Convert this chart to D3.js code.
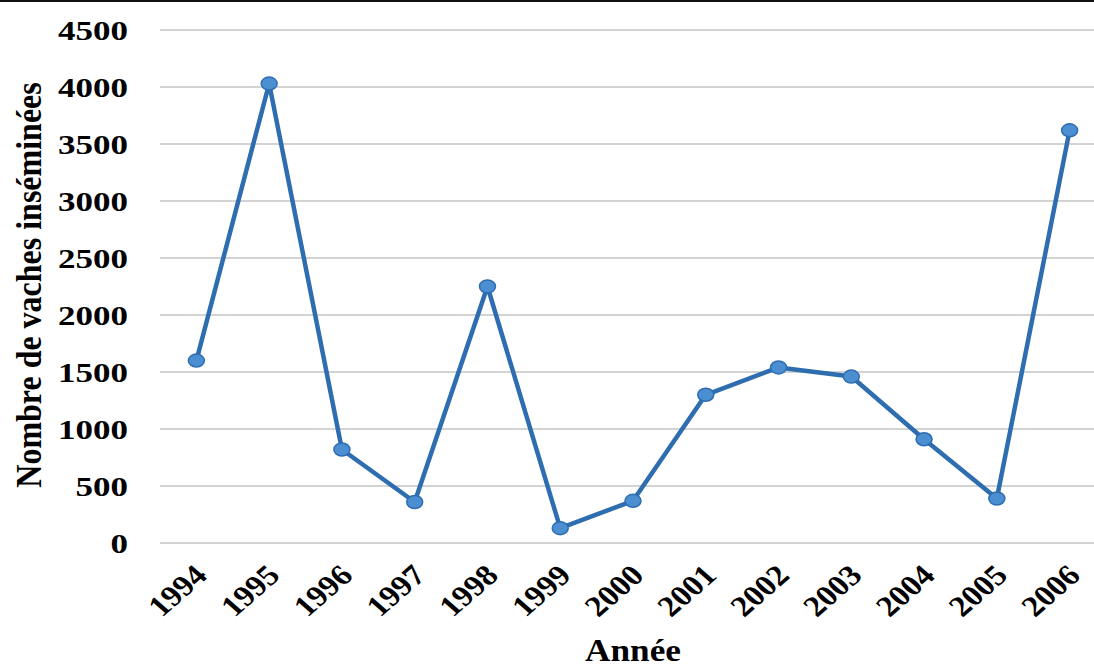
<!DOCTYPE html>
<html>
<head>
  <meta charset="UTF-8">
  <style>
    body { margin: 0; background: #fff; }
    svg { display: block; }
    text { font-family: "Liberation Serif", "Times New Roman", serif; font-weight: bold; fill: #000; }
  </style>
</head>
<body>
  <svg width="1094" height="669"></svg>
  <script src="https://d3js.org/d3.v7.min.js"></script>
  <script>
    // données
    const annees = ['1994', '1995', '1996', '1997', '1998', '1999', '2000',
                    '2001', '2002', '2003', '2004', '2005', '2006'];
    const vaches = [1600, 4030, 820, 360, 2250, 130, 370, 1300, 1540, 1460, 910, 390, 3620];
    const yTicks = [0, 500, 1000, 1500, 2000, 2500, 3000, 3500, 4000, 4500];

    const svg = d3.select('svg');
    const mLeft = 160, mRight = 1106, mTop = 30, mBottom = 543;
    const sx = 1.25; // l'image d'origine est étirée en largeur

    const x = d3.scalePoint().domain(annees).range([mLeft, mRight]).padding(0.5);
    const y = d3.scaleLinear().domain([0, 4500]).range([mBottom, mTop]);

    // bordure du haut
    svg.append('line')
      .attr('x1', 0).attr('x2', 1094).attr('y1', 1).attr('y2', 1)
      .attr('stroke', '#111').attr('stroke-width', 2);

    // grille horizontale
    svg.append('g')
      .selectAll('line')
      .data(yTicks)
      .enter()
      .append('line')
      .attr('x1', mLeft).attr('x2', mRight)
      .attr('y1', d => y(d)).attr('y2', d => y(d))
      .attr('stroke', '#c4c4c4')
      .attr('stroke-width', 1.5);

    // axe Y
    const yAxis = svg.append('g')
      .attr('transform', `translate(${mLeft},0)`)
      .call(d3.axisLeft(y).tickValues(yTicks).tickFormat(d3.format('d')).tickSize(0));
    yAxis.select('.domain').remove();
    yAxis.selectAll('text')
      .style('font-size', '28px')
      .style('font-family', '"Liberation Serif", serif')
      .style('font-weight', 'bold')
      .attr('x', -32 / sx)
      .attr('dy', '0.35em')
      .attr('transform', `scale(${sx},1)`);

    // axe X
    const xAxis = svg.append('g')
      .attr('transform', `translate(0,${mBottom})`)
      .call(d3.axisBottom(x).tickSize(0));
    xAxis.select('.domain').remove();
    xAxis.selectAll('text')
      .style('font-size', '29px')
      .style('font-family', '"Liberation Serif", serif')
      .style('font-weight', 'bold')
      .attr('text-anchor', 'end')
      .attr('dy', null)
      .attr('y', 0)
      .attr('transform', 'translate(12,34) scale(1.15,1) rotate(-45)');

    // titres des axes
    svg.append('text')
      .attr('transform', 'translate(633,661) scale(1.1,1)')
      .attr('text-anchor', 'middle')
      .style('font-size', '32px')
      .text('Année');

    svg.append('text')
      .attr('transform', 'translate(41,285) scale(1.1,1) rotate(-90)')
      .attr('text-anchor', 'middle')
      .style('font-size', '32px')
      .text('Nombre de vaches inséminées');

    // ligne
    const line = d3.line()
      .x((d, i) => x(annees[i]))
      .y(d => y(d));

    svg.append('path')
      .datum(vaches)
      .attr('fill', 'none')
      .attr('stroke', '#2d6db0')
      .attr('stroke-width', 4.5)
      .attr('stroke-linejoin', 'round')
      .attr('d', line);

    svg.append('g')
      .selectAll('ellipse')
      .data(vaches)
      .enter()
      .append('ellipse')
      .attr('cx', (d, i) => x(annees[i]))
      .attr('cy', d => y(d))
      .attr('rx', 8).attr('ry', 6.5)
      .attr('fill', '#4c8ed2')
      .attr('stroke', '#2d6db0')
      .attr('stroke-width', 1.5);
  </script>
</body>
</html>
